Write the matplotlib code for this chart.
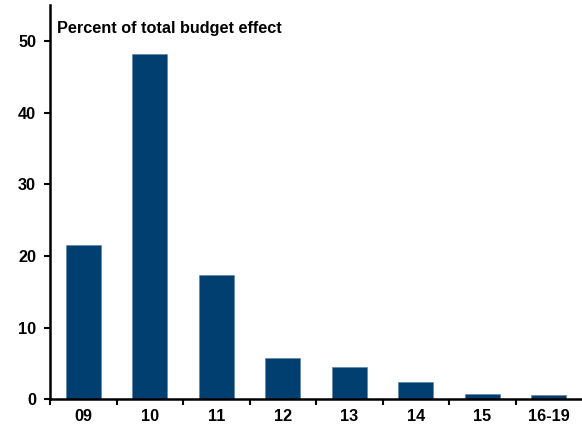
import matplotlib
matplotlib.use("Agg")
import matplotlib.pyplot as plt
import numpy as np

categories = ["09", "10", "11", "12", "13", "14", "15", "16-19"]
values = [21.5, 48.1, 17.4, 5.7, 4.5, 2.4, 0.75, 0.6]
yticks = [0, 10, 20, 30, 40, 50]

plt.rcParams['font.family'] = ['Liberation Sans', 'DejaVu Sans']

fig = plt.figure(figsize=(5.82, 4.26), dpi=100)
ax = fig.add_axes([50/582, 26.7/426, 532/582, (399.3-5)/426])

x = np.arange(len(categories))
ax.bar(x, values, width=0.53, color='#003F70', edgecolor='#5A7FA0', linewidth=0.4)

ax.set_xlim(-0.5, len(categories) - 0.5)
ax.set_ylim(0, 55)
ax.set_yticks(yticks)
ax.set_yticklabels([str(t) for t in yticks], fontsize=11.7, fontweight='bold')
ax.set_xticks(x)
ax.set_xticklabels(categories, fontsize=11.7, fontweight='bold')
ax.tick_params(axis='x', which='major', length=0, pad=7)
ax.set_xticks(np.arange(len(categories)) - 0.5, minor=True)
ax.tick_params(axis='x', which='minor', length=4, width=1.5, direction='out')
ax.tick_params(axis='y', length=4, width=1.5, direction='out', pad=6)

for s in ['top', 'right']:
    ax.spines[s].set_visible(False)
for s in ['left', 'bottom']:
    ax.spines[s].set_linewidth(1.8)

fig.text(57/582, 1 - 28/426, "Percent of total budget effect",
         fontsize=11.7, fontweight='bold', va='center', ha='left')

fig.savefig("out.png", dpi=100)
